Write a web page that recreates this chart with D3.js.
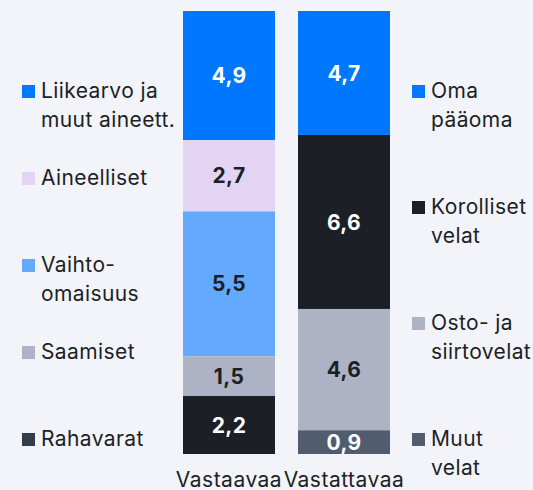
<!DOCTYPE html>
<html>
<head>
<meta charset="utf-8">
<script src="https://cdn.jsdelivr.net/npm/d3@7"></script>
<style>
  html, body { margin: 0; padding: 0; background: #f3f4f9; }
  svg { display: block; font-family: Inter, "Noto Sans", sans-serif; }
</style>
</head>
<body>
<svg id="chart" width="533" height="490"></svg>
<script>
// balance sheet, bn
const columns = ['Vastaavaa', 'Vastattavaa'];

const assetNames = [['Liikearvo ja', 'muut aineett.'], ['Aineelliset'], ['Vaihto-', 'omaisuus'], ['Saamiset'], ['Rahavarat']];
const assetValues = [4.9, 2.7, 5.5, 1.5, 2.2];
const assetLabels = ['4,9', '2,7', '5,5', '1,5', '2,2'];

const liabNames = [['Oma', 'pääoma'], ['Korolliset', 'velat'], ['Osto- ja', 'siirtovelat'], ['Muut', 'velat']];
const liabValues = [4.7, 6.6, 4.6, 0.9];
const liabLabels = ['4,7', '6,6', '4,6', '0,9'];

const assetColors = ['#0077ff', '#e4d4f3', '#63aaff', '#adb2c5', '#1c1f26'];
const assetKeyColors = ['#0077ff', '#e4d4f3', '#63aaff', '#adb2c5', '#333d49'];
const assetText = ['#fff', '#1c1f26', '#1c1f26', '#1c1f26', '#fff'];
const liabColors = ['#0077ff', '#1c1f26', '#adb2c5', '#525c6f'];
const liabText = ['#fff', '#fff', '#1c1f26', '#fff'];

const svg = d3.select('#chart');

const total = d3.max([d3.sum(assetValues), d3.sum(liabValues)]);
const y = d3.scaleLinear().domain([0, total]).range([454, 11]);
const x = d3.scaleBand().domain(columns).range([183, 390]).paddingInner(0.2);

function stack(values) {
  // top to bottom: first item sits on top
  let acc = d3.sum(values);
  return values.map((v) => {
    const top = acc;
    acc -= v;
    return { y0: acc, y1: top, v };
  });
}

function drawBar(col, values, labels, colors, textColors) {
  const segs = stack(values);
  const g = svg.append('g');
  g.selectAll('rect')
    .data(segs)
    .enter()
    .append('rect')
    .attr('x', x(col))
    .attr('width', x.bandwidth())
    .attr('y', (d) => y(d.y1))
    .attr('height', (d) => y(d.y0) - y(d.y1))
    .attr('fill', (d, i) => colors[i]);
  g.selectAll('text')
    .data(segs)
    .enter()
    .append('text')
    .attr('x', x(col) + x.bandwidth() / 2)
    .attr('y', (d) => (y(d.y0) + y(d.y1)) / 2)
    .attr('dy', '0.36em')
    .attr('text-anchor', 'middle')
    .style('font-size', '21px')
    .style('font-weight', 700)
    .style('letter-spacing', '0.3px')
    .style('fill', (d, i) => textColors[i])
    .text((d, i) => labels[i]);
}

drawBar(columns[0], assetValues, assetLabels, assetColors, assetText);
drawBar(columns[1], liabValues, liabLabels, liabColors, liabText);

// legends spread evenly down each side
function drawLegend(names, colors, left) {
  const ly = d3.scalePoint().domain(d3.range(names.length)).range([98, 446]);
  const g = svg.append('g');
  const item = g.selectAll('g')
    .data(names)
    .enter()
    .append('g')
    .attr('transform', (d, i) => `translate(${left}, ${ly(i)})`);
  item.append('rect')
    .attr('x', 0)
    .attr('y', -13)
    .attr('width', 13)
    .attr('height', 13)
    .attr('fill', (d, i) => colors[i]);
  item.append('text')
    .attr('x', 19)
    .style('font-size', '21px')
    .style('letter-spacing', '0.4px')
    .style('fill', '#1c1f26')
    .selectAll('tspan')
    .data((d) => d)
    .enter()
    .append('tspan')
    .attr('x', 19)
    .attr('y', (d, i) => i * 28.5)
    .text((d) => d);
}

drawLegend(assetNames, assetKeyColors, 22);
drawLegend(liabNames, liabColors, 412);

svg.append('g')
  .selectAll('text')
  .data(columns)
  .enter()
  .append('text')
  .attr('x', (d) => x(d) + x.bandwidth() / 2)
  .attr('y', 487)
  .attr('text-anchor', 'middle')
  .style('font-size', '21px')
  .style('letter-spacing', '0.5px')
  .style('fill', '#1c1f26')
  .text((d) => d);
</script>
</body>
</html>
